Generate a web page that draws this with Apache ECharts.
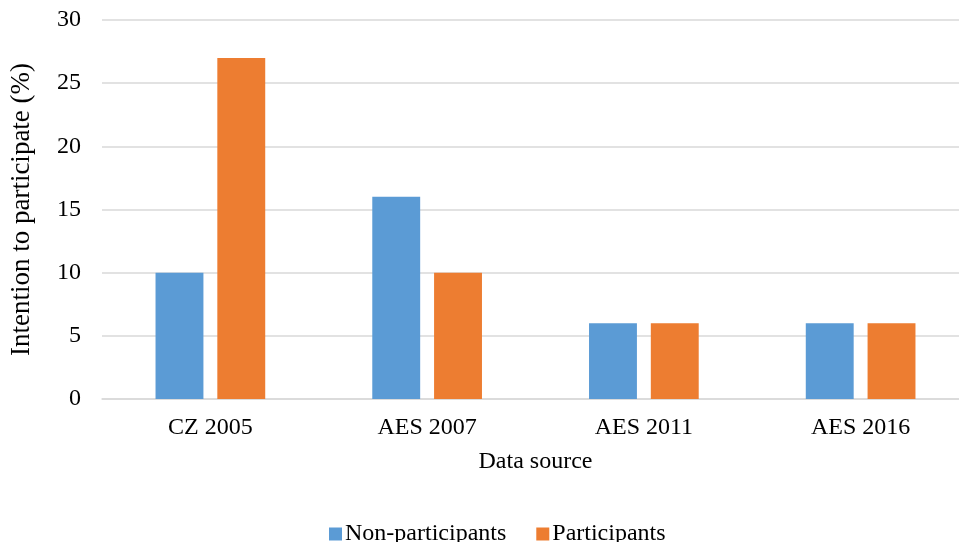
<!DOCTYPE html>
<html><head><meta charset="utf-8">
<script src="https://cdn.jsdelivr.net/npm/echarts@6/dist/echarts.min.js"></script>
<style>html,body{margin:0;padding:0;background:#fff;overflow:hidden;width:959px;height:542px}#c{width:969px;height:542px}</style>
</head><body><div id="c"></div>
<script>
var categories = ['CZ 2005', 'AES 2007', 'AES 2011', 'AES 2016'];
var nonParticipants = [10, 16, 6, 6];
var participants = [27, 10, 6, 6];
var yTicks = [0, 5, 10, 15, 20, 25, 30];

var font = 'Liberation Serif';
var chart = echarts.init(document.getElementById('c'));
chart.setOption({
  animation: false,
  textStyle: {fontFamily: font, color: '#000'},
  grid: {left: 101.5, top: 20, right: 0, bottom: 143, containLabel: false},
  legend: {
    top: 517, left: 324, itemWidth: 13, itemHeight: 13, itemGap: 30,
    icon: 'rect',
    textStyle: {fontFamily: font, fontSize: 24, color: '#000', padding: [0, 0, 0, -2]},
    data: ['Non-participants', 'Participants']
  },
  xAxis: {
    type: 'category', data: categories,
    name: 'Data source', nameLocation: 'middle', nameGap: 51,
    nameTextStyle: {fontFamily: font, fontSize: 24, color: '#000'},
    axisLine: {lineStyle: {color: '#D9D9D9', width: 1.5}},
    axisTick: {show: false},
    axisLabel: {fontFamily: font, fontSize: 24, color: '#000', margin: 17}
  },
  yAxis: {
    type: 'value', min: yTicks[0], max: yTicks[yTicks.length - 1], interval: 5,
    name: 'Intention to participate (%)', nameLocation: 'middle', nameGap: 67,
    nameTextStyle: {fontFamily: font, fontSize: 27, color: '#000'},
    axisLine: {show: false}, axisTick: {show: false},
    axisLabel: {fontFamily: font, fontSize: 24, color: '#000', margin: 21},
    splitLine: {lineStyle: {color: '#D9D9D9', width: 1.5}}
  },
  series: [
    {name: 'Non-participants', type: 'bar', data: nonParticipants, barWidth: '22.1%', barGap: '29%',
     itemStyle: {color: '#5B9BD5'}},
    {name: 'Participants', type: 'bar', data: participants, barWidth: '22.1%',
     itemStyle: {color: '#ED7D31'}}
  ]
});
</script></body></html>
